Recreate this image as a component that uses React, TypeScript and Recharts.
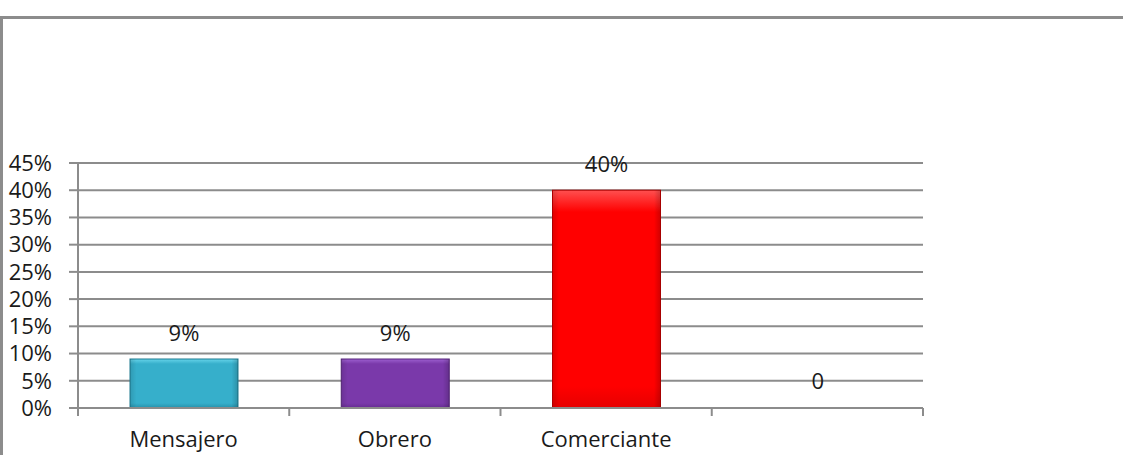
import React from 'react'
import { BarChart, Bar, XAxis, YAxis, CartesianGrid, Cell, LabelList } from 'recharts'

const categories = ['Mensajero', 'Obrero', 'Comerciante', '']
const shares = [0.09, 0.09, 0.4, 0]
const yTicks = [0, 0.05, 0.1, 0.15, 0.2, 0.25, 0.3, 0.35, 0.4, 0.45]
const barColors = [
  { id: 'gCyan', top: '#66d4ea', mid: '#36afcb', bottom: '#2690aa', edge: '#1f7a90' },
  { id: 'gPurple', top: '#9d60d0', mid: '#7a39aa', bottom: '#662c92', edge: '#55247a' },
  { id: 'gRed', top: '#ff5050', mid: '#ff0000', bottom: '#e60000', edge: '#b80000' },
  { id: 'gNone', top: '#ffffff', mid: '#ffffff', bottom: '#ffffff', edge: 'none' },
]

const data = categories.map((name, i) => ({ name, value: shares[i], idx: i }))

const font = '"Open Sans", sans-serif'
const gray = '#8c8c8c'
const ink = '#1a1a1a'

const pct = (v: number) => `${Math.round(v * 100)}%`

// category tick: label under the band centre, tick marks on the band edges
function CategoryTick(props: any) {
  const { x, y, payload, index, visibleTicksCount } = props
  const half = payload?.offset ?? 0
  const last = index === (visibleTicksCount ?? categories.length) - 1
  return (
    <g>
      <line x1={x - half} y1={y} x2={x - half} y2={y + 8} stroke={gray} strokeWidth={2} />
      {last && <line x1={x + half} y1={y} x2={x + half} y2={y + 8} stroke={gray} strokeWidth={2} />}
      <text x={x} y={y + 23} dy="0.71em" textAnchor="middle" fill={ink} fontSize={22} fontFamily={font}>
        {payload.value}
      </text>
    </g>
  )
}

// bevelled bar, a bit like the office 3d bar look
function BevelBar(props: any) {
  const { x, y, width, height, fill, stroke } = props
  if (!height || height <= 1 || fill === 'none') return null
  return (
    <g>
      <rect x={x} y={y} width={width} height={height} fill={fill} stroke={stroke} strokeWidth={1} />
      <rect x={x} y={y} width={width} height={height} fill="url(#sideShade)" />
    </g>
  )
}

export default function App() {
  return (
    <div style={{ position: 'absolute', left: 0, top: 0, width: 1123, height: 455, background: '#fff', overflow: 'hidden' }}>
      <div
        style={{
          position: 'absolute',
          left: 0,
          top: 16,
          width: 1123,
          height: 439,
          borderTop: `3px solid ${gray}`,
          borderLeft: `3px solid ${gray}`,
          boxSizing: 'border-box',
        }}
      />
      <div style={{ position: 'absolute', left: 0, top: 0 }}>
        <BarChart
          width={1123}
          height={455}
          data={data}
          margin={{ top: 163, right: 200, bottom: 0, left: 0 }}
          style={{ fontFamily: font }}
        >
          <defs>
            {barColors.map((c) => (
              <linearGradient key={c.id} id={c.id} x1="0" y1="0" x2="0" y2="1">
                <stop offset="0%" stopColor={c.top} />
                <stop offset="10%" stopColor={c.mid} />
                <stop offset="90%" stopColor={c.mid} />
                <stop offset="100%" stopColor={c.bottom} />
              </linearGradient>
            ))}
            <linearGradient id="sideShade" x1="0" y1="0" x2="1" y2="0">
              <stop offset="0%" stopColor="#000" stopOpacity={0.12} />
              <stop offset="6%" stopColor="#000" stopOpacity={0} />
              <stop offset="94%" stopColor="#000" stopOpacity={0} />
              <stop offset="100%" stopColor="#000" stopOpacity={0.18} />
            </linearGradient>
          </defs>
          <CartesianGrid vertical={false} stroke={gray} strokeWidth={2} />
          <YAxis
            width={78}
            domain={[0, 0.45]}
            ticks={yTicks}
            interval={0}
            tickFormatter={pct}
            tick={{ fill: ink, fontSize: 22, fontFamily: font }}
            tickSize={9}
            tickMargin={17}
            tickLine={{ stroke: gray, strokeWidth: 2 }}
            axisLine={{ stroke: gray, strokeWidth: 2 }}
          />
          <XAxis
            dataKey="name"
            height={47}
            interval={0}
            tick={<CategoryTick />}
            tickLine={false}
            tickSize={0}
            tickMargin={0}
            axisLine={{ stroke: gray, strokeWidth: 2 }}
          />
          <Bar dataKey="value" barSize={108} minPointSize={1} shape={<BevelBar />} isAnimationActive={false}>
            {data.map((d, i) => (
              <Cell
                key={d.idx}
                fill={d.value === 0 ? 'none' : `url(#${barColors[i].id})`}
                stroke={barColors[i].edge}
              />
            ))}
            <LabelList
              dataKey="value"
              position="top"
              offset={18}
              formatter={(v: any) => (v === 0 ? '0' : pct(v))}
              style={{ fill: ink, fontSize: 22, fontFamily: font }}
            />
          </Bar>
        </BarChart>
      </div>
    </div>
  )
}
